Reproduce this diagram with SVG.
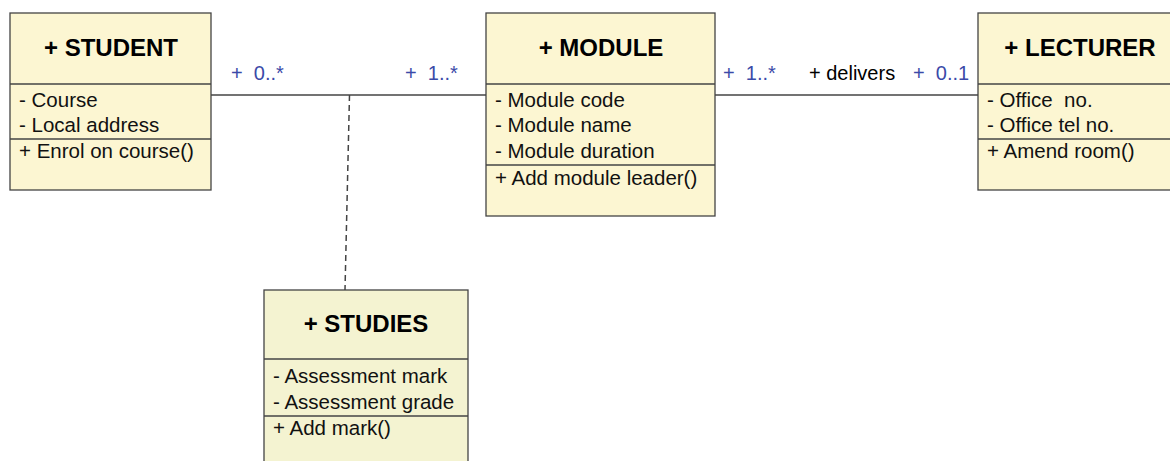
<svg xmlns="http://www.w3.org/2000/svg" width="1170" height="461" viewBox="0 0 1170 461">
<style>
.box{fill:#fcf6d2;stroke:#444;stroke-width:1.3}
.box2{fill:#f4f3d1;stroke:#444;stroke-width:1.3}
.div{stroke:#444;stroke-width:1.3}
.title{font-family:"Liberation Sans",Arial,sans-serif;font-size:24px;font-weight:bold;fill:#000;text-anchor:middle}
.attr{font-family:"Liberation Sans",Arial,sans-serif;font-size:20.5px;fill:#111}
.mult{font-family:"Liberation Sans",Arial,sans-serif;font-size:20px;fill:#3b4aa8;white-space:pre}
.role{font-family:"Liberation Sans",Arial,sans-serif;font-size:20px;fill:#000}
.conn{stroke:#444;stroke-width:1.5;fill:none}
</style>
<rect width="1170" height="461" fill="#fff"/>
<g id="connectors">
<line class="conn" x1="211" y1="95" x2="486" y2="95"/>
<line class="conn" x1="715" y1="95" x2="978" y2="95"/>
<line class="conn" x1="349.5" y1="95" x2="345" y2="290" stroke-dasharray="6,4" stroke-width="1.8"/>
<text class="mult" x="231" y="80">+  0..*</text>
<text class="mult" x="405" y="80">+  1..*</text>
<text class="mult" x="723" y="80">+  1..*</text>
<text class="role" x="809" y="80">+ delivers</text>
<text class="mult" x="913" y="80">+  0..1</text>
</g>
<g id="student">
<rect class="box" x="10" y="13" width="201" height="177"/>
<line class="div" x1="10" y1="84" x2="211" y2="84"/>
<line class="div" x1="10" y1="139" x2="211" y2="139"/>
<text class="title" x="111" y="56">+ STUDENT</text>
<text class="attr" x="19" y="107">- Course</text>
<text class="attr" x="19" y="132">- Local address</text>
<text class="attr" x="19" y="158">+ Enrol on course()</text>
</g>
<g id="module">
<rect class="box" x="486" y="13" width="229" height="203"/>
<line class="div" x1="486" y1="84" x2="715" y2="84"/>
<line class="div" x1="486" y1="165" x2="715" y2="165"/>
<text class="title" x="601" y="56">+ MODULE</text>
<text class="attr" x="495" y="107">- Module code</text>
<text class="attr" x="495" y="132">- Module name</text>
<text class="attr" x="495" y="158">- Module duration</text>
<text class="attr" x="495" y="185">+ Add module leader()</text>
</g>
<g id="lecturer">
<rect class="box" x="978" y="13" width="200" height="177"/>
<line class="div" x1="978" y1="84" x2="1170" y2="84"/>
<line class="div" x1="978" y1="139" x2="1170" y2="139"/>
<text class="title" x="1080" y="56">+ LECTURER</text>
<text class="attr" x="987" y="107" style="white-space:pre">- Office  no.</text>
<text class="attr" x="987" y="132">- Office tel no.</text>
<text class="attr" x="987" y="158">+ Amend room()</text>
</g>
<g id="studies">
<rect class="box2" x="264" y="290" width="204" height="180"/>
<line class="div" x1="264" y1="359" x2="468" y2="359"/>
<line class="div" x1="264" y1="416" x2="468" y2="416"/>
<text class="title" x="366" y="332">+ STUDIES</text>
<text class="attr" x="273" y="383">- Assessment mark</text>
<text class="attr" x="273" y="409">- Assessment grade</text>
<text class="attr" x="273" y="435">+ Add mark()</text>
</g>
</svg>
